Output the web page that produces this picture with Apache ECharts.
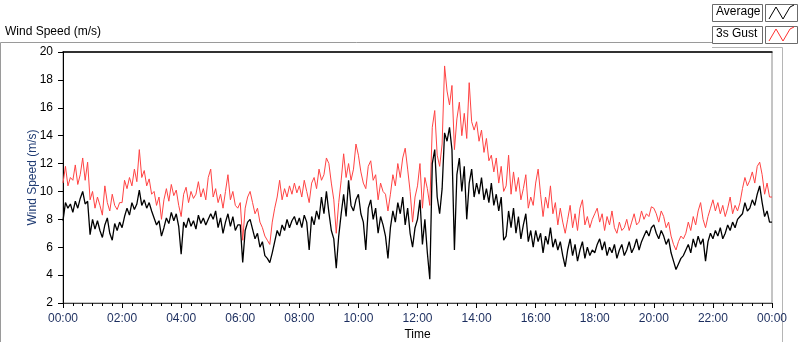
<!DOCTYPE html>
<html><head><meta charset="utf-8">
<script src="https://cdn.jsdelivr.net/npm/echarts@6/dist/echarts.min.js"></script>
<style>html,body{margin:0;padding:0;background:#fff}#c{width:800px;height:342px}</style>
</head><body><div id="c"></div>
<script>
// Sampling step (minutes) of both series, starting at 00:00
const stepMinutes = 5;
// Average wind speed (m/s), one value every 5 minutes, 00:00 .. 24:00
const average = [
 7.9,9.2,8.8,9.1,8.5,9.3,8.8,9.5,10.0,9.1,9.3,6.9,
 8.0,7.3,7.9,7.2,6.7,7.6,8.1,7.0,6.5,7.7,7.2,7.8,
 7.4,8.2,8.8,8.3,9.2,8.7,9.1,10.1,9.0,9.4,8.8,9.2,
 8.6,8.1,7.6,7.9,6.8,7.4,8.1,7.7,8.5,7.9,8.4,7.5,
 5.5,7.8,7.4,8.1,7.5,7.9,7.3,8.3,7.7,8.1,7.6,8.0,
 8.4,8.0,8.6,7.4,8.1,7.0,7.8,8.4,7.5,8.2,7.2,7.6,
 7.6,4.9,7.2,7.8,8.0,7.3,6.6,7.0,6.0,6.4,5.4,5.2,
 4.9,5.6,6.4,7.2,6.8,7.6,7.2,8.0,7.4,7.9,8.2,7.6,
 8.1,7.4,8.3,7.8,5.8,8.2,7.6,8.6,8.0,9.6,8.4,10.0,
 8.5,7.2,6.6,4.5,6.8,8.4,9.8,8.2,10.8,9.0,8.6,9.4,
 9.8,8.4,7.8,5.8,8.8,9.4,8.0,8.8,7.0,8.2,7.6,6.8,
 5.2,7.4,8.6,7.8,9.2,8.4,9.6,7.6,8.8,7.0,6.0,7.4,
 8.0,9.4,6.2,8.0,5.6,3.7,12.0,13.0,9.6,8.4,10.2,14.2,
 13.6,14.6,13.0,5.8,11.2,12.4,10.0,11.8,8.0,10.6,11.6,9.6,
 10.6,9.8,11.0,9.4,10.2,9.2,10.6,9.0,9.8,8.6,9.6,6.5,
 6.8,8.6,7.4,8.8,7.0,8.2,6.6,7.6,8.4,6.4,7.2,6.0,
 7.2,6.4,7.0,5.6,6.8,6.2,7.4,6.0,6.6,5.8,6.4,5.4,
 4.6,5.8,6.6,5.4,6.2,5.0,5.8,6.4,5.2,6.0,5.4,5.8,
 5.6,6.2,6.6,5.8,6.4,5.4,6.0,5.6,6.2,5.2,5.8,6.2,
 5.4,5.8,6.4,5.6,6.0,6.6,5.8,6.4,6.8,7.2,6.8,7.4,
 7.6,7.0,6.6,7.2,6.8,6.2,6.6,5.6,5.0,4.4,4.8,5.2,
 5.4,5.8,6.2,5.6,6.6,6.0,6.8,6.2,6.6,5.0,6.4,7.0,
 6.6,7.2,6.8,7.4,6.6,7.0,7.6,7.2,7.8,7.4,8.0,8.2,
 8.4,9.2,8.6,8.8,9.4,9.0,9.8,10.4,9.2,8.2,8.6,7.8,
 7.8
];
// 3-second gust (m/s), same sampling
const gust = [
 10.6,11.8,10.4,11.0,10.8,11.9,10.5,11.2,12.4,10.8,12.1,9.4,
 10.0,8.8,9.6,9.0,8.3,10.4,9.2,8.6,9.8,9.0,8.7,9.2,
 9.2,10.8,10.2,11.0,10.4,11.6,10.7,13.0,11.0,11.5,10.4,10.9,
 9.8,10.0,9.0,9.6,8.0,9.4,10.2,9.3,10.5,9.7,10.1,9.0,
 8.2,9.8,10.3,9.2,10.0,9.5,9.8,10.7,9.6,10.2,9.4,11.0,
 11.6,9.6,10.2,9.2,9.8,8.8,10.0,11.2,9.4,10.0,9.0,8.8,
 9.2,6.5,8.8,9.6,10.0,9.2,8.4,8.8,7.8,7.4,6.8,6.5,
 6.2,7.8,8.8,9.6,10.8,9.4,10.2,9.6,10.4,9.8,10.6,9.9,
 10.4,9.6,10.8,10.0,9.2,10.6,11.0,10.2,11.6,10.8,11.2,12.4,
 12.0,10.6,9.4,7.0,9.2,10.8,12.7,11.0,12.0,10.8,11.6,13.4,
 12.6,11.4,10.6,10.2,11.8,12.2,10.8,11.2,9.4,10.6,10.0,9.8,
 8.6,9.8,11.2,10.4,12.0,11.0,12.4,13.1,11.6,10.0,7.8,9.6,
 10.4,12.0,8.8,11.0,10.2,9.0,14.6,15.8,12.6,11.8,13.4,19.0,
 17.2,16.2,17.6,13.0,15.2,16.4,14.0,15.6,13.8,17.8,15.0,14.4,
 15.0,13.6,14.4,12.8,13.8,12.2,12.6,11.4,12.4,10.6,11.8,10.0,
 10.4,12.6,9.8,11.4,10.0,11.0,9.4,10.2,11.2,8.8,9.6,9.0,
 10.6,11.6,9.8,8.2,9.6,8.8,10.4,8.4,9.2,7.6,8.8,7.8,
 7.0,8.0,9.0,7.4,8.4,7.2,8.8,9.4,7.6,8.2,7.4,8.0,
 8.4,8.8,7.8,8.4,7.2,8.2,7.6,8.6,7.4,7.0,7.8,7.2,
 7.4,8.0,7.2,7.8,8.4,7.6,7.8,8.6,8.0,8.4,8.2,8.9,
 8.8,8.4,7.8,8.6,8.2,7.4,7.8,6.8,6.2,5.8,6.4,6.8,
 6.6,7.0,7.8,7.2,8.2,7.6,8.6,9.2,8.0,7.4,8.2,8.8,
 9.4,8.6,9.2,8.4,9.0,8.2,8.8,9.6,8.4,9.0,8.6,9.2,
 10.2,11.0,10.4,10.8,11.4,10.6,11.8,12.1,11.2,9.8,10.6,9.6,
 9.6
];
const seriesNames = ['Average', '3s Gust'];
const chartTitle = 'Wind Speed (m/s)';
const yTitle = 'Wind Speed (m/s)';
const xTitle = 'Time';

const FONT = 'Liberation Sans';
function pad(n){return (n<10?'0':'')+n;}
function fmt(v){v=Math.round(v);return pad(Math.floor(v/60)%24)+':'+pad(v%60);}
const avgData = average.map((v,i)=>[i*stepMinutes, v]);
const gustData = gust.map((v,i)=>[i*stepMinutes, v]);

const chart = echarts.init(document.getElementById('c'), null, {renderer:'canvas'});
function legendItem(y, label, color){
  return [
    {type:'rect', shape:{x:712.5,y:y+0.5,width:50,height:17}, style:{fill:'#fff',stroke:'#6b6b6b',lineWidth:1}},
    {type:'text', left:716, top:y+2, style:{text:label, fill:'#000', font:'12px '+FONT}},
    {type:'rect', shape:{x:765.5,y:y+0.5,width:32,height:17}, style:{fill:'#fff',stroke:'#6b6b6b',lineWidth:1}},
    {type:'polyline', shape:{points:[[769,y+15],[776,y+3],[783,y+15],[790,y+3],[794,y+1]]}, style:{stroke:color,lineWidth:1,fill:null}}
  ];
}
chart.setOption({
  animation:false,
  backgroundColor:'#fff',
  textStyle:{fontFamily:FONT},
  grid:{left:63, right:28, top:52, bottom:39, show:true, borderColor:'#8a8a8a', borderWidth:1, backgroundColor:'#fff',
        containLabel:false, outerBoundsMode:'none'},
  xAxis:[{
    type:'value', min:0, max:1440, interval:120,
    axisLine:{show:true, lineStyle:{color:'#444', width:1}},
    axisTick:{show:true, inside:false, length:5, lineStyle:{color:'#000'}},
    minorTick:{show:true, splitNumber:6, length:3, lineStyle:{color:'#000'}},
    splitLine:{show:false},
    axisLabel:{formatter:fmt, color:'#1b2d5e', fontSize:12, fontFamily:FONT, margin:10},
    name:xTitle, nameLocation:'middle', nameGap:26, nameMoveOverlap:false,
    nameTextStyle:{color:'#000', fontSize:12, fontFamily:FONT}
  },{
    type:'value', position:'top', min:0, max:1440,
    axisLine:{show:true, lineStyle:{color:'#000', width:1.5}},
    axisTick:{show:false}, axisLabel:{show:false}, splitLine:{show:false}
  }],
  yAxis:{
    type:'value', min:2, max:20, interval:2,
    axisLine:{show:true, lineStyle:{color:'#000', width:1}},
    axisTick:{show:true, length:5, lineStyle:{color:'#000'}},
    splitLine:{show:false},
    axisLabel:{color:'#000', fontSize:12, fontFamily:FONT, margin:10},
    name:yTitle, nameLocation:'middle', nameGap:24, nameRotate:90, nameMoveOverlap:false,
    nameTextStyle:{color:'#1f3b73', fontSize:12, fontFamily:FONT}
  },
  series:[
    {name:seriesNames[1], type:'line', data:gustData, showSymbol:false, symbol:'none',
     lineStyle:{color:'#ff4343', width:1}, z:2},
    {name:seriesNames[0], type:'line', data:avgData, showSymbol:false, symbol:'none',
     lineStyle:{color:'#000', width:1.3}, z:3}
  ],
  graphic:[
    {type:'text', left:5, top:26, style:{text:chartTitle, fill:'#000', font:'12px '+FONT}},
    {type:'polyline', shape:{points:[[0.5,342],[0.5,42.5],[712,42.5]]}, style:{stroke:'#9a9a9a',lineWidth:1,fill:null}},
    {type:'polyline', shape:{points:[[712,47.5],[782.5,47.5],[782.5,342]]}, style:{stroke:'#b5b5b5',lineWidth:1,fill:null}},
    ...legendItem(4, seriesNames[0], '#000'),
    ...legendItem(26, seriesNames[1], '#ff3030')
  ]
});
</script></body></html>
